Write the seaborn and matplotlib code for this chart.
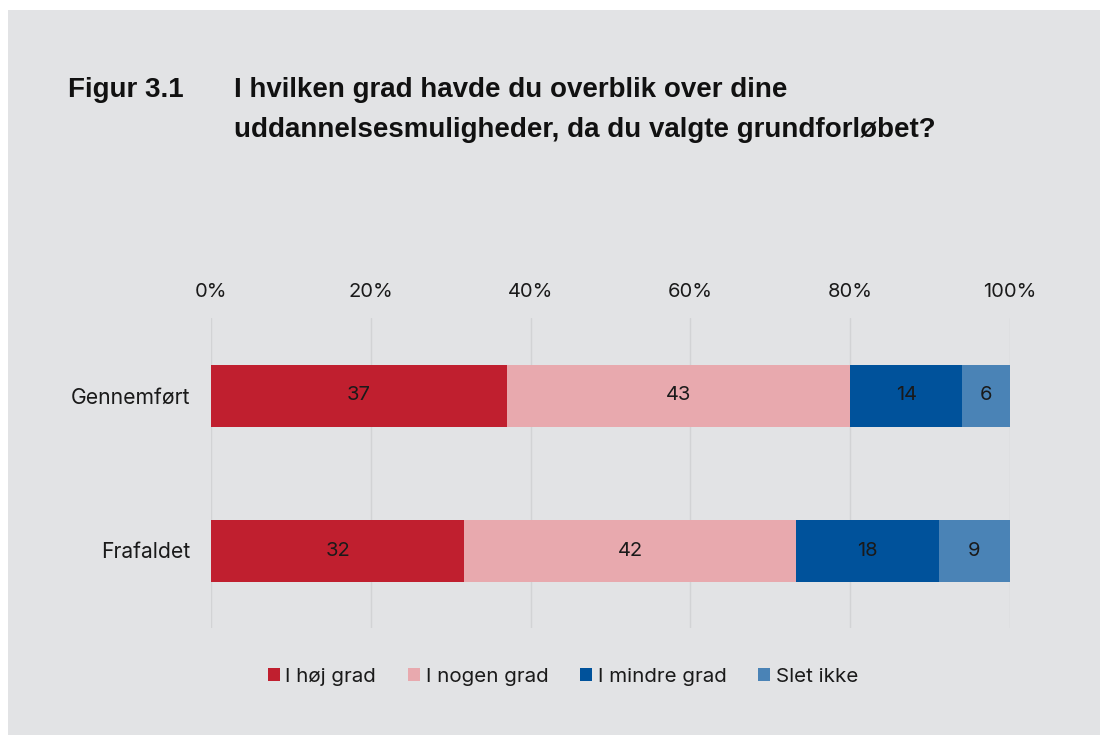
import pandas as pd
import seaborn as sns
import matplotlib.pyplot as plt
from matplotlib.patches import Rectangle

groups = ['Gennemført', 'Frafaldet']
answers = ['I høj grad', 'I nogen grad', 'I mindre grad', 'Slet ikke']
values = {
    'I høj grad': [37, 32],
    'I nogen grad': [43, 42],
    'I mindre grad': [14, 18],
    'Slet ikke': [6, 9],
}
colors = ['#C01F2F', '#E8A9AE', '#00529B', '#4A83B6']
ticks = [0, 20, 40, 60, 80, 100]
tick_labels = ['0%', '20%', '40%', '60%', '80%', '100%']

bg = '#E2E3E5'

df = pd.DataFrame(values, index=groups)
# responses sum to 101 for one group -> scale to 100%
pct = df.div(df.sum(axis=1), axis=0) * 100
cum = pct.cumsum(axis=1)

sns.set_theme(style='white')
plt.rcParams['font.family'] = ['Inter', 'DejaVu Sans']

fig = plt.figure(figsize=(11, 7.35), dpi=100, facecolor='white')
fig.patches.append(Rectangle((8 / 1100, 0), 1, 1 - 10 / 735, transform=fig.transFigure,
                             facecolor=bg, edgecolor='none', zorder=-1))

ax = fig.add_axes([211 / 1100, 1 - 628 / 735, 799 / 1100, 310 / 735])
ax.set_facecolor('none')

# draw cumulative widths from widest to narrowest so segments stack
for ans, col in reversed(list(zip(answers, colors))):
    d = pd.DataFrame({'group': groups, 'end': cum[ans].values})
    sns.barplot(data=d, y='group', x='end', orient='h', color=col, width=0.4,
                saturation=1, linewidth=0, edgecolor='none', ax=ax, zorder=3, label=ans)

for ans in answers:
    for i, g in enumerate(groups):
        ax.text(cum.loc[g, ans] - pct.loc[g, ans] / 2, i, str(df.loc[g, ans]),
                ha='center', va='center', fontsize=14.5, color='#1a1a1a', zorder=4)

ax.set_xlim(0, 100)
ax.set_ylim(1.5, -0.5)
ax.set_xticks(ticks)
ax.set_xticklabels(tick_labels)
ax.xaxis.tick_top()
ax.tick_params(axis='x', length=0, pad=12, labelsize=14.5, colors='#1a1a1a')
ax.tick_params(axis='y', length=0, pad=15, labelsize=15.2, colors='#1a1a1a')
ax.set_xlabel('')
ax.set_ylabel('')
ax.grid(axis='x', color='#D2D3D5', linewidth=1, zorder=0)
for s in ax.spines.values():
    s.set_visible(False)

handles, labels = ax.get_legend_handles_labels()
order = [labels.index(a) for a in answers]
leg = ax.legend([handles[i] for i in order], [labels[i] for i in order],
                loc='center', bbox_to_anchor=(563 / 1100, 1 - 677 / 735),
                bbox_transform=fig.transFigure, ncol=4, frameon=False,
                fontsize=14.8, handlelength=0.6, handleheight=0.6,
                handletextpad=0.25, columnspacing=1.55)
for t in leg.get_texts():
    t.set_color('#1a1a1a')

title_font = dict(fontsize=20, fontweight='bold', color='#111111',
                  family=['Liberation Sans', 'DejaVu Sans'])
fig.text(68 / 1100, 1 - 90 / 735, 'Figur 3.1', va='center', ha='left', **title_font)
fig.text(234 / 1100, 1 - 90 / 735, 'I hvilken grad havde du overblik over dine',
         va='center', ha='left', **title_font)
fig.text(234 / 1100, 1 - 130 / 735, 'uddannelsesmuligheder, da du valgte grundforløbet?',
         va='center', ha='left', **title_font)

fig.savefig('out.png', dpi=100, facecolor='white')
